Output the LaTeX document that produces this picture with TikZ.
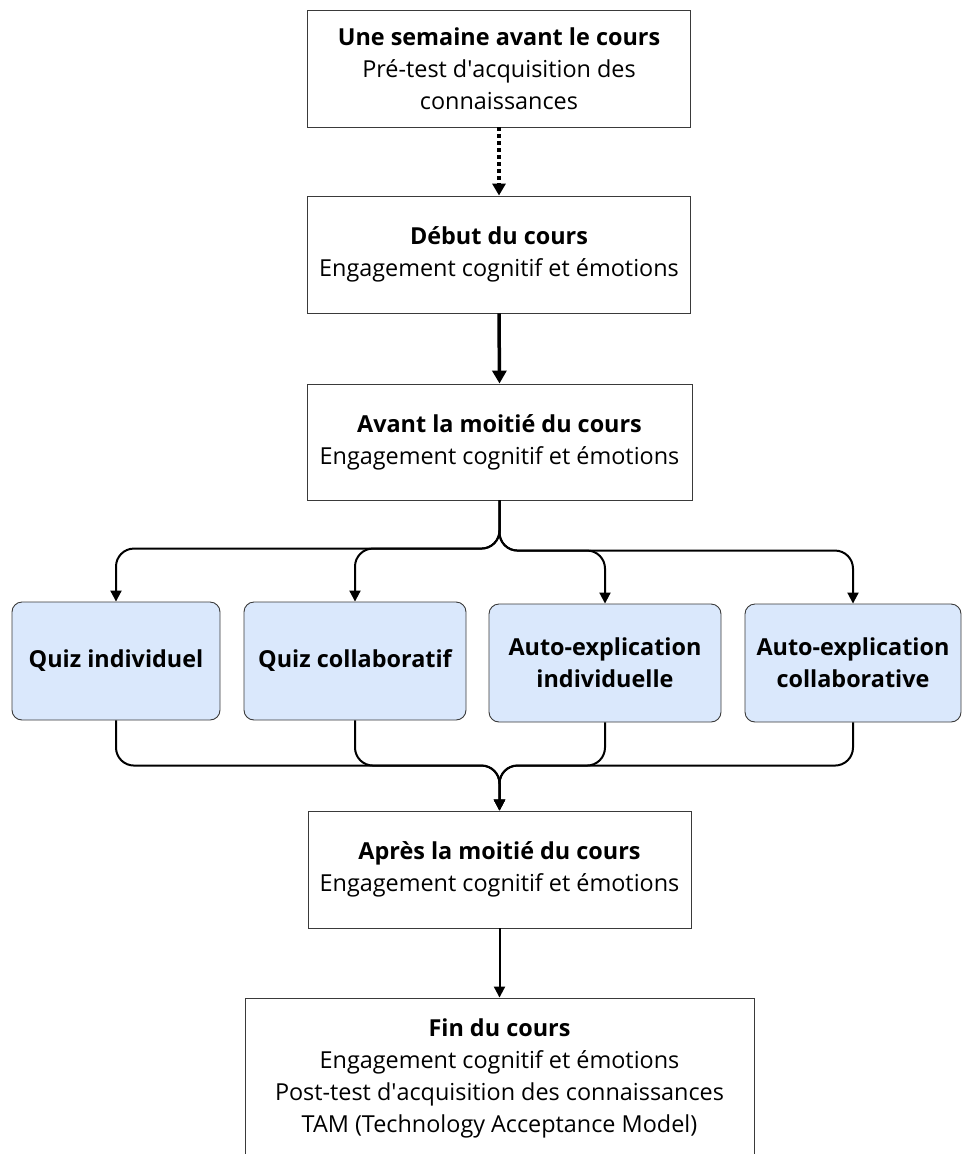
\documentclass[tikz,border=0pt]{standalone}
\usepackage{fontspec}
\setmainfont{Open Sans}
\usepackage{tikz}
\usetikzlibrary{arrows.meta, positioning, calc}
\definecolor{clrBlueLight}{HTML}{DAE8FC}
\definecolor{clrEdge}{HTML}{3A3A3A}
\tikzset{
  stage box/.style={rectangle, draw=clrEdge, fill=white, line width=0.9pt, minimum width=383pt, minimum height=117pt, inner sep=0pt, align=center, font=\fontsize{23.4}{32}\selectfont},
  act box/.style={stage box, fill=clrBlueLight, rounded corners=10pt, minimum height=118pt, font=\fontsize{23.4}{32}\selectfont\bfseries},
  arr/.style={-{Triangle[length=11pt, width=11pt]}, line width=2pt},
  barr/.style={-{Triangle[length=13pt, width=14pt]}, line width=3.5pt},
  darr/.style={-{Triangle[length=12pt, width=13pt]}, line width=3.5pt, dash pattern=on 3.5pt off 3.5pt},
}

\begin{document}
\begin{tikzpicture}[x=1pt, y=-1pt]
  \clip (0,0) rectangle (963,1154);

  % Stages
  \node[stage box] (preweek) at (499,68.5) {\textbf{Une semaine avant le cours}\\Pré-test d\textquotesingle acquisition des\\connaissances};
  \node[stage box] (start) at (499,254.5) {\textbf{Début du cours}\\Engagement cognitif et émotions};
  \node[stage box, minimum width=385pt, minimum height=116pt] (midpre) at (499.5,442) {\textbf{Avant la moitié du cours}\\Engagement cognitif et émotions};

  % Activities
  \node[act box, minimum width=208pt] (quizind) at (116,661) {Quiz individuel};
  \node[act box, minimum width=222pt] (quizcol) at (355,661) {Quiz collaboratif};
  \node[act box, minimum width=232pt] (autoind) at (605,663) {Auto-explication\\individuelle};
  \node[act box, minimum width=216pt] (autocol) at (853,663) {Auto-explication\\collaborative};

  \node[stage box] (midpost) at (499.5,869.5) {\textbf{Après la moitié du cours}\\Engagement cognitif et émotions};
  \node[stage box, minimum width=509pt, minimum height=160pt] (finish) at (499.5,1078) {\textbf{Fin du cours}\\Engagement cognitif et émotions\\Post-test d\textquotesingle acquisition des connaissances\\TAM (Technology Acceptance Model)};

  % Arrows
  \draw[darr] (preweek.south) -- (start.north);
  \draw[barr] (start.south) -- (midpre.north);
  \foreach \act in {quizind, quizcol, autoind, autocol} {
    \draw[arr, rounded corners=18pt] (midpre.south) |- ($(\act.north)+(0,-53)$) -- (\act.north);
    \draw[arr, rounded corners=18pt] (\act.south) |- ($(midpost.north)+(0,-45)$) -- (midpost.north);
  }
  \draw[arr] (midpost.south) -- (finish.north);
\end{tikzpicture}
\end{document}
